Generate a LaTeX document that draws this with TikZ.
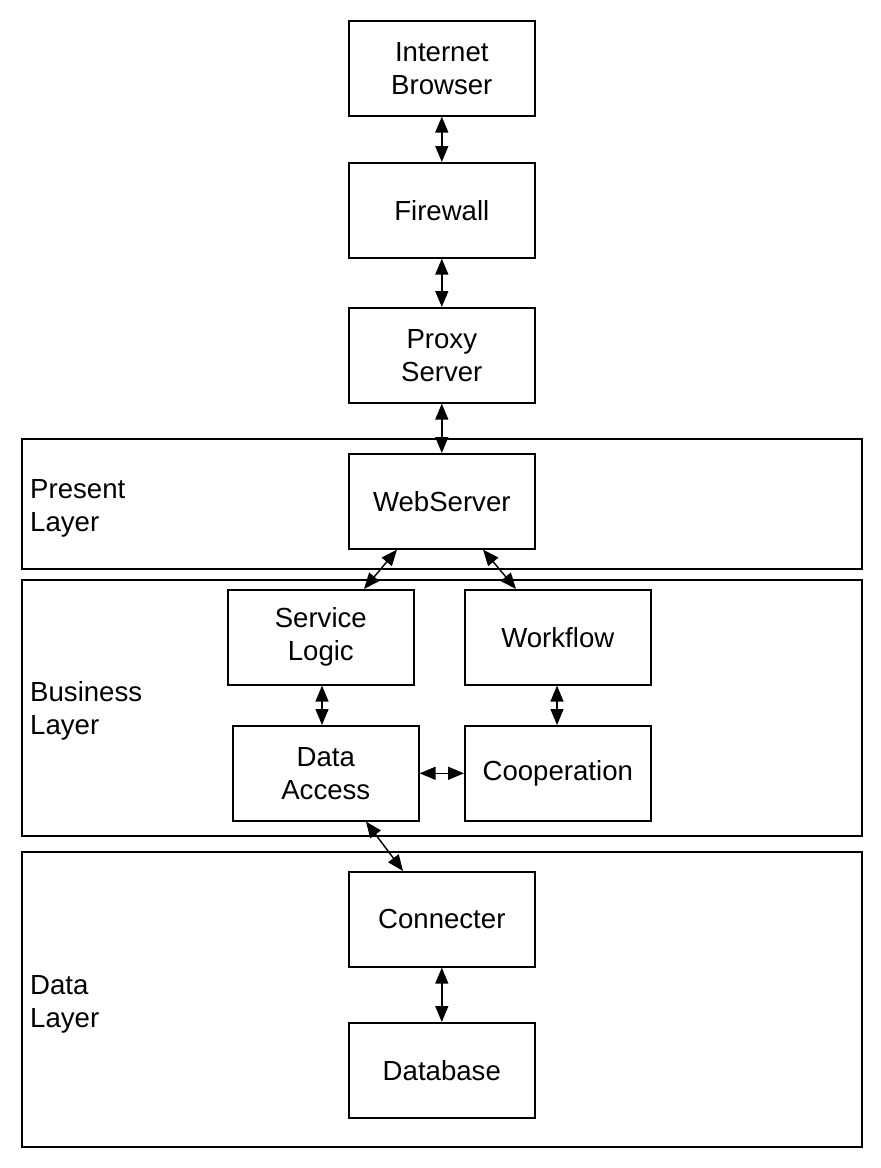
\documentclass[tikz,border=0pt]{standalone}
\usepackage{fontspec}
\setmainfont{Liberation Sans}
\usetikzlibrary{arrows.meta,calc}
\begin{document}
\begin{tikzpicture}[x=1pt,y=-1pt,
  every node/.style={font=\fontsize{27.6}{33}\selectfont},
  box/.style={draw, line width=1.6pt, minimum width=186pt, minimum height=95pt, align=center, inner sep=0pt, anchor=north west},
  layer/.style={draw, line width=1.6pt, minimum width=840pt, inner sep=0pt, anchor=north west},
  lbl/.style={align=left, anchor=west, inner sep=0pt},
  arr/.style={{Triangle[length=16pt,width=13pt]}-{Triangle[length=16pt,width=13pt]}, line width=1.4pt}]
\useasboundingbox (0,0) rectangle (881,1168);
% layers
\node[layer, minimum height=130pt] (present) at (21,438) {};
\node[layer, minimum height=256pt] (business) at (21,579) {};
\node[layer, minimum height=295pt] (data) at (21,851) {};
\node[lbl] (plbl) at (30,508) {Present\\Layer};
\node[lbl] (blbl) at (30,711) {Business\\Layer};
\node[lbl] (dlbl) at (30,1004) {Data\\Layer};
% boxes
\node[box] (ib) at (348,20) {Internet\\Browser};
\node[box] (fw) at (348,162) {Firewall};
\node[box] (px) at (348,307) {Proxy\\Server};
\node[box] (web) at (348,453) {WebServer};
\node[box] (sl) at (227,589) {Service\\Logic};
\node[box] (wf) at (464,589) {Workflow};
\node[box] (da) at (232,725) {Data\\Access};
\node[box] (co) at (464,725) {Cooperation};
\node[box] (cn) at (348,871) {Connecter};
\node[box] (db) at (348,1022) {Database};
% connectors
\draw[arr] (ib.south) -- (fw.north);
\draw[arr] (fw.south) -- (px.north);
\draw[arr] (px.south) -- (web.north);
\draw[arr] ($(web.south west)+(49,0)$) -- ($(sl.north west)+(137,0)$);
\draw[arr] ($(web.south west)+(135,0)$) -- ($(wf.north west)+(52,0)$);
\draw[arr] ($(sl.south west)+(95,0)$) -- ($(da.north west)+(90,0)$);
\draw[arr] ($(wf.south west)+(93,0)$) -- ($(co.north west)+(93,0)$);
\draw[arr] (da.east) -- (co.west);
\draw[arr] ($(da.south west)+(134,0)$) -- ($(cn.north west)+(55,0)$);
\draw[arr] (cn.south) -- (db.north);
\end{tikzpicture}
\end{document}
